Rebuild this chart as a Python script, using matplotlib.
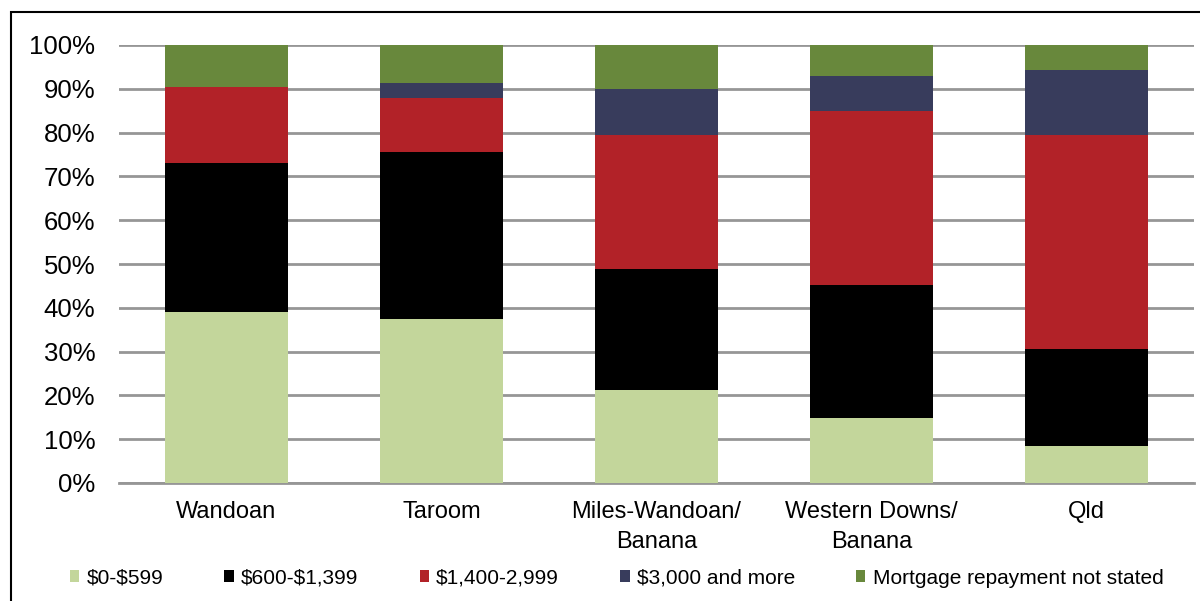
import matplotlib
matplotlib.use("Agg")
import matplotlib.pyplot as plt
from matplotlib.patches import Rectangle
import numpy as np

plt.rcParams['font.family'] = ['Liberation Sans', 'DejaVu Sans']

regions = ["Wandoan", "Taroom", "Miles-Wandoan/\nBanana", "Western Downs/\nBanana", "Qld"]
series_names = [r"\$0-\$599", r"\$600-\$1,399", r"\$1,400-2,999", r"\$3,000 and more",
                "Mortgage repayment not stated"]
colors = ["#c3d69b", "#000000", "#b22228", "#383c5c", "#68883c"]

pct_0_599 = [39.0, 37.4, 21.2, 14.8, 8.4]
pct_600_1399 = [34.1, 38.2, 27.7, 30.5, 22.1]
pct_1400_2999 = [17.2, 12.2, 30.5, 39.6, 48.9]
pct_3000_plus = [0.0, 3.5, 10.6, 8.0, 15.0]
pct_not_stated = [9.7, 8.7, 10.0, 7.1, 5.6]

series = [pct_0_599, pct_600_1399, pct_1400_2999, pct_3000_plus, pct_not_stated]

fig = plt.figure(figsize=(12, 6.01), dpi=100)
ax = fig.add_axes([119 / 1200, 1 - 483 / 601, (1194 - 119) / 1200, (483 - 45) / 601])

x = np.arange(len(regions))
bottom = np.zeros(len(regions))
handles = []
for vals, c, name in zip(series, colors, series_names):
    v = np.array(vals)
    b = ax.bar(x, v, bottom=bottom, width=0.57, color=c, label=name, zorder=3,
               edgecolor='none')
    handles.append(b)
    bottom += v

ax.set_xlim(-0.5, len(regions) - 0.5)
ax.set_ylim(0, 100)
ax.set_yticks(np.arange(0, 101, 10))
ax.set_yticklabels([f"{t}%" for t in range(0, 101, 10)], fontsize=18.5)
ax.set_xticks(x)
ax.set_xticklabels(regions, fontsize=17, linespacing=1.45)
ax.tick_params(axis='y', length=0, pad=17)
ax.tick_params(axis='x', length=0, pad=13)

ax.yaxis.grid(True, color='#969696', linewidth=2, zorder=0)
for s in ['left', 'right', 'top']:
    ax.spines[s].set_visible(False)
ax.spines['bottom'].set_color('#969696')
ax.spines['bottom'].set_linewidth(2)

leg = fig.legend(handles=handles, labels=series_names, loc='center left',
                 bbox_to_anchor=(70 / 1200, 1 - 578 / 601), ncol=5, frameon=False,
                 fontsize=15, handlelength=0.45, handleheight=0.45, handletextpad=0.35,
                 columnspacing=2.93, borderaxespad=0, borderpad=0)

# chart frame
fig.add_artist(Rectangle((11 / 1200, -0.05), 1.2, 1 - 12 / 601 + 0.05,
                         transform=fig.transFigure, fill=False,
                         edgecolor='black', linewidth=1.5))

fig.savefig("out.png", dpi=100)
